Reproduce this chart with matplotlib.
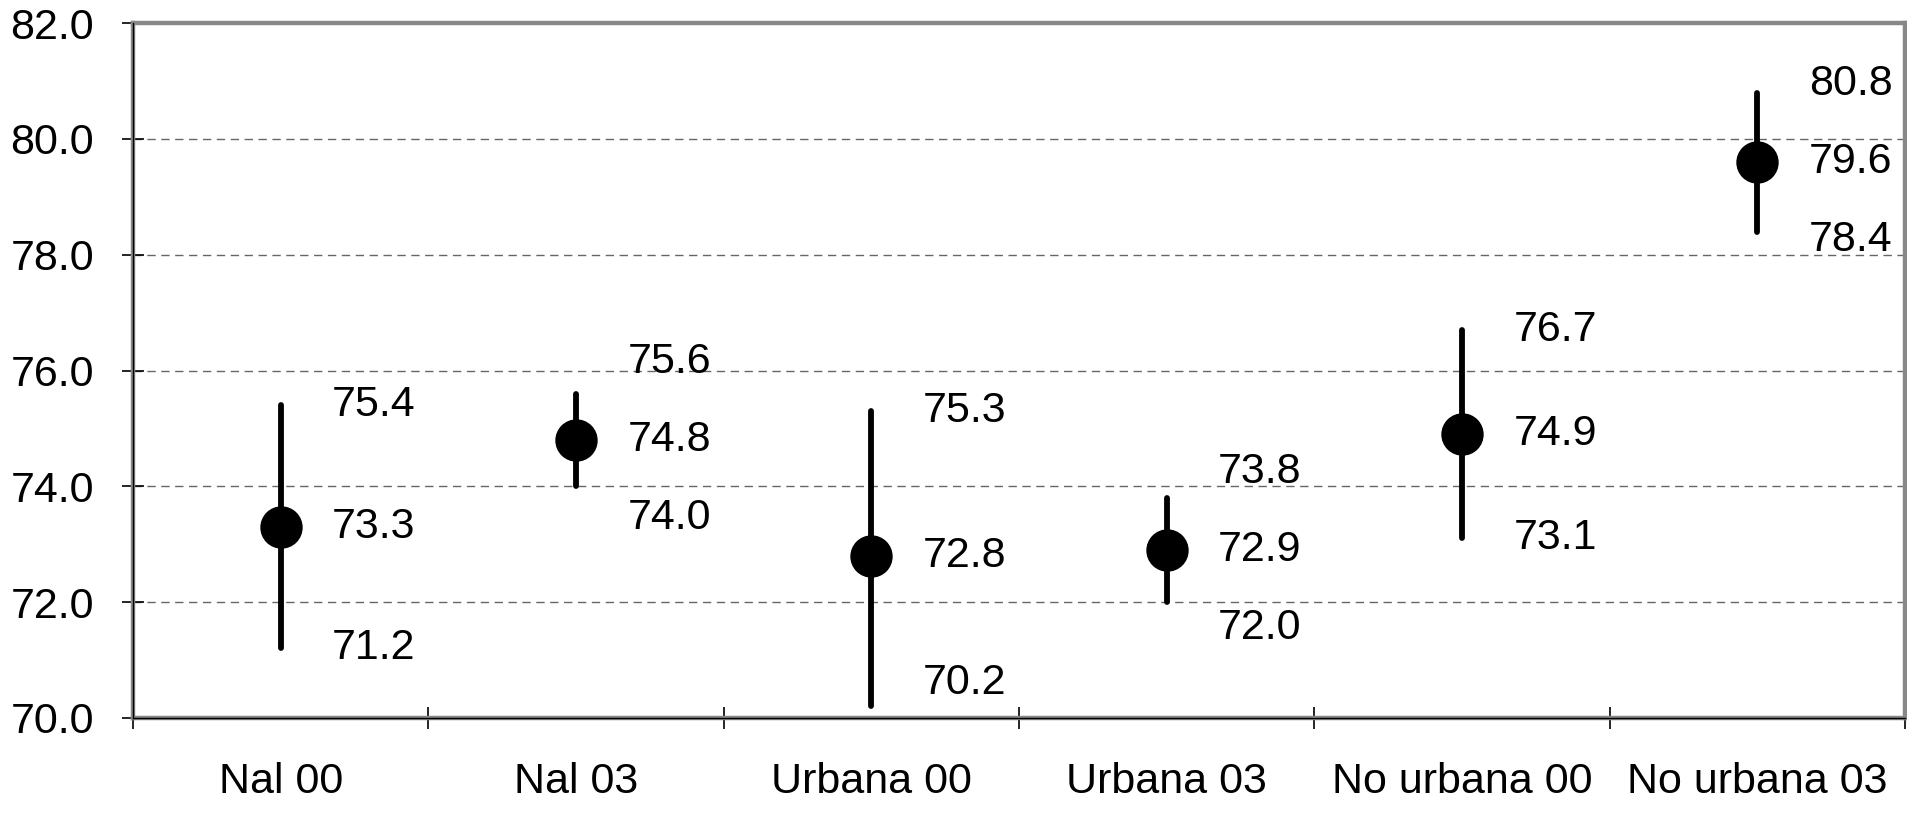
import matplotlib
matplotlib.use("Agg")
import matplotlib.pyplot as plt
import numpy as np

categories = ["Nal 00", "Nal 03", "Urbana 00", "Urbana 03", "No urbana 00", "No urbana 03"]
mean_vals = [73.3, 74.8, 72.8, 72.9, 74.9, 79.6]
upper_vals = [75.4, 75.6, 75.3, 73.8, 76.7, 80.8]
lower_vals = [71.2, 74.0, 70.2, 72.0, 73.1, 78.4]
y_ticks = [70.0, 72.0, 74.0, 76.0, 78.0, 80.0, 82.0]

plt.rcParams['font.family'] = ['Liberation Sans', 'DejaVu Sans']
FS = 31

fig = plt.figure(figsize=(19.08, 8.26), dpi=100)
ax = fig.add_axes([0.0697, 0.1308, 0.9287, 0.8412])

x = np.arange(len(categories))
ax.set_xlim(-0.5, len(categories) - 0.5)
ax.set_ylim(y_ticks[0], y_ticks[-1])

# grid lines
for yv in y_ticks[1:-1]:
    ax.axhline(yv, color='#666666', lw=1.0, dashes=(6, 4), zorder=1)

# error bars
ax.vlines(x, lower_vals, upper_vals, colors='black', lw=4.2, zorder=3,
          capstyle='round')
ax.plot(x, mean_vals, 'o', color='black', markersize=29.5, zorder=4)

# labels
min_sep = 1.35
y_floor = 70.6
for xi, m, u, l in zip(x, mean_vals, upper_vals, lower_vals):
    ax.annotate(f"{m:.1f}", (xi, m), xytext=(37, 0), textcoords='offset points',
                ha='left', va='center', fontsize=FS, zorder=5)
    uy = max(u, m + min_sep)
    ly = max(min(l, m - min_sep), y_floor)
    ax.annotate(f"{u:.1f}", (xi, uy), xytext=(37, 0), textcoords='offset points',
                ha='left', va='center', fontsize=FS, zorder=5)
    ax.annotate(f"{l:.1f}", (xi, ly), xytext=(37, 0), textcoords='offset points',
                ha='left', va='center', fontsize=FS, zorder=5)

# axes styling
for sp in ax.spines.values():
    sp.set_color('#888888')
    sp.set_linewidth(3.2)
ax.plot([0, 0], [0, 1], transform=ax.transAxes, color='black', lw=1.0,
        clip_on=False, zorder=6)
ax.plot([0, 1], [0, 0], transform=ax.transAxes, color='black', lw=1.0,
        clip_on=False, zorder=6)

ax.set_yticks(y_ticks)
ax.set_yticklabels([f"{v:.1f}" for v in y_ticks], fontsize=FS)
ax.tick_params(axis='y', direction='inout', length=16, width=1.2, pad=20,
               color='black')

ax.set_xticks(np.arange(-0.5, len(categories) + 0.5, 1.0))
ax.set_xticklabels([])
ax.tick_params(axis='x', which='major', direction='inout', length=16,
               width=1.2, color='black')
ax.set_xticks(x, minor=True)
ax.set_xticklabels(categories, minor=True, fontsize=FS)
ax.tick_params(axis='x', which='minor', length=0, pad=32)

fig.savefig("out.png", dpi=100)
